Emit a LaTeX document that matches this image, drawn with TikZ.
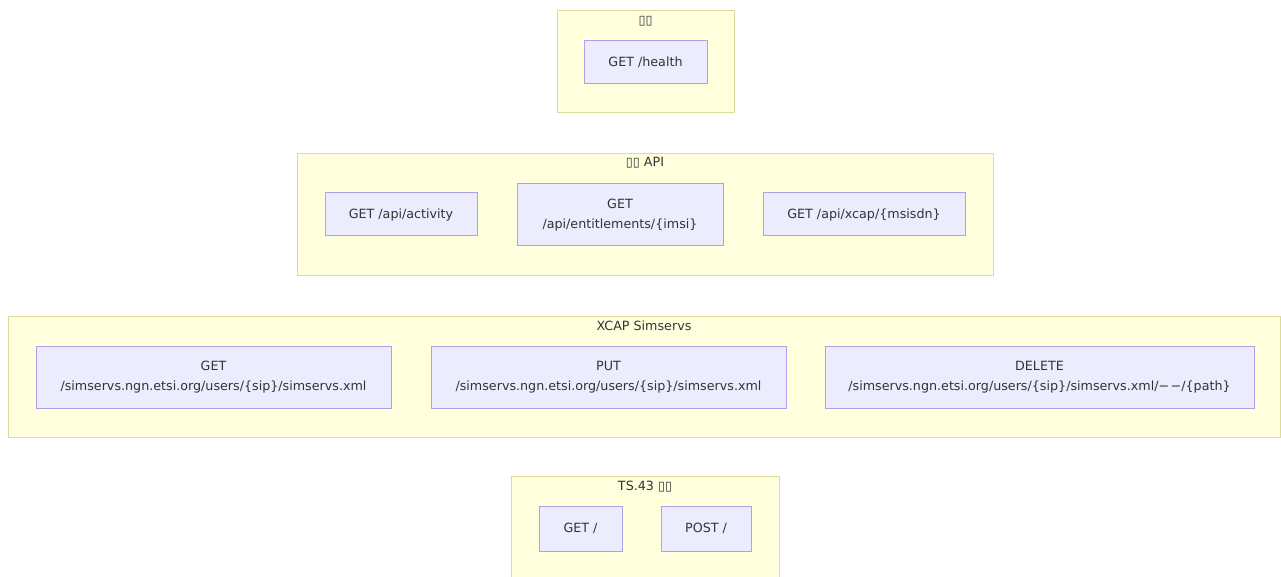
\documentclass[tikz,border=0pt]{standalone}
\usepackage{fontspec}
\setmainfont{DejaVu Sans}
\definecolor{clfill}{HTML}{FFFFDE}
\definecolor{cldraw}{HTML}{DCDC9A}
\definecolor{ndfill}{HTML}{ECECFF}
\definecolor{nddraw}{HTML}{B39FE8}
\definecolor{txt}{HTML}{333333}
\tikzset{
  cluster/.style={draw=cldraw, fill=clfill, line width=1pt, inner sep=0pt},
  ep/.style={draw=nddraw, fill=ndfill, line width=1pt, inner sep=0pt, text=txt,
    font=\fontsize{12.7}{20.5}\selectfont, align=center},
  ctitle/.style={text=txt, font=\fontsize{12.7}{14}\selectfont, inner sep=0pt}
}
\begin{document}
\begin{tikzpicture}[x=1pt,y=-1pt]
\useasboundingbox (0,0) rectangle (1281,577);
\fill[white] (0,0) rectangle (1281,577);
% clusters
\draw[cluster] (557,11) rectangle (734,113);
\node[ctitle] (t1) at (645.5,21) {▯▯};
\draw[cluster] (297,154) rectangle (993,275);
\node[ctitle] (t2) at (645,163) {▯▯ API};
\draw[cluster] (8,316) rectangle (1280,437);
\node[ctitle] (t3) at (644,326) {XCAP Simservs};
\draw[cluster] (511,476) -- (511,581) -- (779,581) -- (779,476) -- cycle;
\node[ctitle] (t4) at (645,487) {TS.43 ▯▯};
% endpoints
\node[ep, minimum width=123pt, minimum height=43pt] (health) at (645.5,62.5) {GET /health};
\node[ep, minimum width=152pt, minimum height=43pt] (activity) at (401,214.5) {GET /api/activity};
\node[ep, minimum width=206pt, minimum height=62pt] (ent) at (620,215) {GET\\/api/entitlements/\{imsi\}};
\node[ep, minimum width=202pt, minimum height=43pt] (xcap) at (864,214.5) {GET /api/xcap/\{msisdn\}};
\node[ep, minimum width=355pt, minimum height=62pt] (sget) at (213.5,377) {GET\\/simservs.ngn.etsi.org/users/\{sip\}/simservs.xml};
\node[ep, minimum width=355pt, minimum height=62pt] (sput) at (608.5,377) {PUT\\/simservs.ngn.etsi.org/users/\{sip\}/simservs.xml};
\node[ep, minimum width=429pt, minimum height=62pt] (sdel) at (1039.5,377) {DELETE\\/simservs.ngn.etsi.org/users/\{sip\}/simservs.xml/−\kern1.5pt−/\{path\}};
\node[ep, minimum width=83pt, minimum height=45pt] (tget) at (580.5,528.5) {GET /};
\node[ep, minimum width=90pt, minimum height=45pt] (tpost) at (706,528.5) {POST /};
\end{tikzpicture}
\end{document}
